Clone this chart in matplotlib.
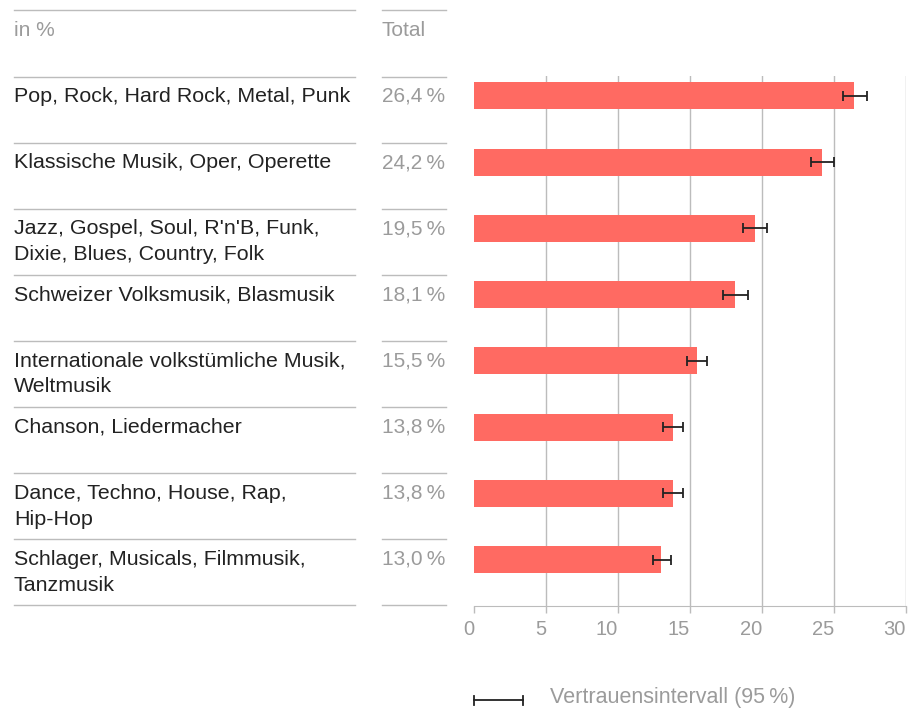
import matplotlib.pyplot as plt

# data
categories = [
    "Pop, Rock, Hard Rock, Metal, Punk",
    "Klassische Musik, Oper, Operette",
    "Jazz, Gospel, Soul, R'n'B, Funk,\nDixie, Blues, Country, Folk",
    "Schweizer Volksmusik, Blasmusik",
    "Internationale volkstümliche Musik,\nWeltmusik",
    "Chanson, Liedermacher",
    "Dance, Techno, House, Rap,\nHip-Hop",
    "Schlager, Musicals, Filmmusik,\nTanzmusik",
]
totals = [26.4, 24.2, 19.5, 18.1, 15.5, 13.8, 13.8, 13.0]
ci_low = [25.6, 23.4, 18.7, 17.3, 14.8, 13.15, 13.1, 12.4]
ci_high = [27.3, 25.0, 20.35, 19.0, 16.2, 14.5, 14.5, 13.7]
xticks = [0, 5, 10, 15, 20, 25, 30]

BAR = "#ff6a62"
GREY_TXT = "#9b9b9b"
LINE = "#bcbcbc"
DARK = "#222222"
FONT = ["Liberation Sans", "DejaVu Sans"]
plt.rcParams["font.family"] = FONT
FS = 15.4

W, H = 910, 708
fig = plt.figure(figsize=(W / 100, H / 100), dpi=100)

# overlay axes in pixel units for the table part
tab = fig.add_axes([0, 0, 1, 1])
tab.set_xlim(0, W)
tab.set_ylim(H, 0)
tab.axis("off")

row_top0, row_h = 76.5, 66.1
n = len(categories)

# header
tab.plot([14, 355], [10, 10], color=LINE, lw=1)
tab.plot([382, 446], [10, 10], color=LINE, lw=1)
tab.text(14, 36, "in %", color=GREY_TXT, fontsize=15, va="baseline")
tab.text(382, 36, "Total", color=GREY_TXT, fontsize=15, va="baseline")

for i in range(n + 1):
    y = row_top0 + row_h * i
    tab.plot([14, 355], [y, y], color=LINE, lw=1)
    tab.plot([382, 446], [y, y], color=LINE, lw=1)

for i, (cat, val) in enumerate(zip(categories, totals)):
    base = row_top0 + row_h * i + 25.5
    for j, line in enumerate(cat.split("\n")):
        tab.text(14, base + 26 * j, line, color=DARK, fontsize=FS, va="baseline")
    tab.text(382, base, f"{val:.1f}".replace(".", ",") + "\u2009%",
             color=GREY_TXT, fontsize=15, va="baseline")

# legend
tab.plot([474, 523], [700, 700], color=DARK, lw=1.3)
tab.plot([474, 474], [695.5, 704.5], color=DARK, lw=1.3)
tab.plot([523, 523], [695.5, 704.5], color=DARK, lw=1.3)
tab.text(550, 702.5, "Vertrauensintervall (95\u2009%)", color=GREY_TXT,
         fontsize=15.5, va="baseline")

# bar chart
ax = fig.add_axes([474 / W, (H - 606) / H, (906 - 474) / W, (606 - 76) / H])
pos = list(range(n))
ax.barh(pos, totals, height=0.41, color=BAR, zorder=2)
xerr = [[t - lo for t, lo in zip(totals, ci_low)],
        [hi - t for t, hi in zip(totals, ci_high)]]
ax.errorbar(totals, pos, xerr=xerr, fmt="none", ecolor=DARK, elinewidth=1.3,
            capsize=3.3, capthick=1.3, zorder=3)

ax.set_xlim(0, 30)
ax.set_ylim(n - 0.30, -0.30)
ax.set_yticks([])
ax.set_xticks(xticks)
ax.set_xticklabels([str(t) for t in xticks], ha="right")
for t in xticks[1:]:
    ax.axvline(t, color=LINE, lw=1, zorder=1)
for s in ["top", "left", "right"]:
    ax.spines[s].set_visible(False)
ax.spines["bottom"].set_color(LINE)
ax.tick_params(axis="x", colors=LINE, length=5, width=1, pad=5,
               labelcolor=GREY_TXT, labelsize=14.5)

fig.savefig("out.png", dpi=100)
